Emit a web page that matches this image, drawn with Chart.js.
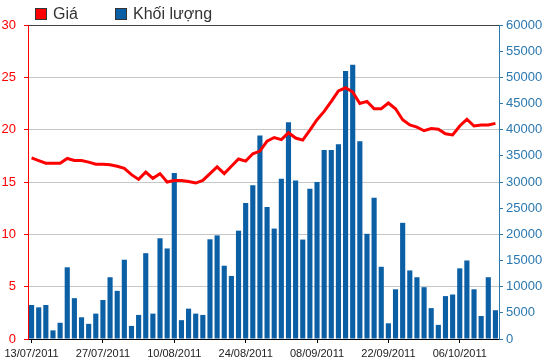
<!DOCTYPE html>
<html>
<head>
<meta charset="utf-8">
<script src="https://cdn.jsdelivr.net/npm/chart.js@4.4.1/dist/chart.umd.min.js"></script>
<style>
  html, body { margin: 0; padding: 0; background: #fff; }
  canvas { display: block; }
</style>
</head>
<body>
<canvas id="chartGia" width="550" height="364"></canvas>
<script>
// Ngày giao dịch
const ngay = [
  '13/07/2011','14/07/2011','15/07/2011','18/07/2011','19/07/2011','20/07/2011','21/07/2011','22/07/2011','25/07/2011','26/07/2011',
  '27/07/2011','28/07/2011','29/07/2011','01/08/2011','02/08/2011','03/08/2011','04/08/2011','05/08/2011','08/08/2011','09/08/2011',
  '10/08/2011','11/08/2011','12/08/2011','15/08/2011','16/08/2011','17/08/2011','18/08/2011','19/08/2011','22/08/2011','23/08/2011',
  '24/08/2011','25/08/2011','26/08/2011','29/08/2011','30/08/2011','31/08/2011','01/09/2011','05/09/2011','06/09/2011','07/09/2011',
  '08/09/2011','09/09/2011','12/09/2011','13/09/2011','14/09/2011','15/09/2011','16/09/2011','19/09/2011','20/09/2011','21/09/2011',
  '22/09/2011','23/09/2011','26/09/2011','27/09/2011','28/09/2011','29/09/2011','30/09/2011','03/10/2011','04/10/2011','05/10/2011',
  '06/10/2011','07/10/2011','10/10/2011','11/10/2011','12/10/2011','13/10/2011'
];

// Giá (trục trái)
const gia = [
  17.3, 17.05, 16.8, 16.8, 16.8, 17.25, 17.05, 17.05, 16.9, 16.7,
  16.7, 16.65, 16.5, 16.3, 15.7, 15.25, 15.95, 15.35, 15.8, 15.0,
  15.15, 15.15, 15.05, 14.9, 15.15, 15.8, 16.45, 15.8, 16.5, 17.2,
  17.0, 17.7, 17.95, 18.9, 19.25, 19.05, 19.7, 19.2, 19.0, 19.95,
  20.95, 21.75, 22.7, 23.7, 24.0, 23.6, 22.5, 22.7, 22.0, 22.0,
  22.55, 22.0, 20.95, 20.45, 20.25, 19.9, 20.1, 20.05, 19.6, 19.5,
  20.35, 21.0, 20.35, 20.45, 20.45, 20.6
];

// Khối lượng (trục phải)
const khoiLuong = [
  6500, 6050, 6500, 1650, 3100, 13700, 7800, 4150, 2900, 4850,
  7450, 11800, 9200, 15150, 2500, 4600, 16400, 4850, 19250, 17300,
  31700, 3600, 5800, 4850, 4600, 19050, 19800, 14000, 12050, 20700,
  26000, 29400, 38900, 25200, 21100, 30600, 41400, 30300, 19000, 28700,
  30000, 36100, 36100, 37200, 51200, 52400, 37800, 20100, 27000, 13800,
  3000, 9500, 22200, 13100, 11800, 9900, 5900, 2700, 8200, 8500,
  13500, 15000, 9500, 4400, 11800, 5500
];

const FONT = 'Liberation Sans, Arial, sans-serif';
const DO = '#ff0000';
const XANH = '#0b5fa5';
const XANH_TRUC = '#2a78b0';

// Chú thích vẽ tay ở phía trên
const chuThich = {
  id: 'chuThich',
  afterDraw(chart) {
    const ctx = chart.ctx;
    const items = [
      { x: 35, ds: chart.data.datasets[0] },
      { x: 115, ds: chart.data.datasets[1] }
    ];
    ctx.save();
    ctx.font = '16px ' + FONT;
    ctx.textBaseline = 'middle';
    items.forEach(it => {
      ctx.fillStyle = it.ds.legendColor;
      ctx.fillRect(it.x, 8, 12, 12);
      ctx.strokeStyle = '#333';
      ctx.lineWidth = 1;
      ctx.strokeRect(it.x + 0.5, 8.5, 11, 11);
      ctx.fillStyle = '#333';
      ctx.fillText(it.ds.label, it.x + 18, 15);
    });
    ctx.restore();
  }
};

const ctx = document.getElementById('chartGia').getContext('2d');

const chart = new Chart(ctx, {
  type: 'bar',
  data: {
    labels: ngay,
    datasets: [{
      type: 'line',
      label: 'Giá',
      data: gia,
      yAxisID: 'yGia',
      borderColor: DO,
      legendColor: DO,
      borderWidth: 3,
      pointRadius: 0,
      tension: 0,
      order: 0
    }, {
      type: 'bar',
      label: 'Khối lượng',
      data: khoiLuong,
      yAxisID: 'yKL',
      backgroundColor: XANH,
      legendColor: XANH,
      barPercentage: 0.72,
      categoryPercentage: 1.0,
      order: 1
    }]
  },
  options: {
    responsive: false,
    animation: false,
    maintainAspectRatio: false,
    layout: { padding: { top: 25, left: 0, right: 0, bottom: 0 } },
    plugins: {
      legend: { display: false },
      tooltip: { enabled: false }
    },
    scales: {
      x: {
        afterFit: s => { s.height = 25; },
        grid: {
          offset: false,
          drawOnChartArea: false,
          tickLength: 4,
          tickColor: '#000'
        },
        border: { color: '#000', width: 1 },
        ticks: {
          autoSkip: false,
          maxRotation: 0,
          minRotation: 0,
          padding: 4,
          color: '#222',
          font: { family: FONT, size: 11 },
          callback: (v, i) => (i % 10 === 0 ? ngay[i] : null)
        }
      },
      yGia: {
        position: 'left',
        min: 0,
        max: 30,
        afterFit: s => { s.width = 28; },
        grid: {
          color: c => (c.tick.value === 30 ? '#444' : '#c6c6c6'),
          tickLength: 4,
          tickColor: DO
        },
        border: { color: DO, width: 1 },
        ticks: {
          stepSize: 5,
          autoSkip: false,
          padding: 8,
          color: DO,
          font: { family: FONT, size: 13 }
        }
      },
      yKL: {
        position: 'right',
        min: 0,
        max: 60000,
        afterFit: s => { s.width = 51; },
        grid: {
          drawOnChartArea: false,
          tickLength: 4,
          tickColor: XANH_TRUC
        },
        border: { color: XANH_TRUC, width: 1 },
        ticks: {
          stepSize: 5000,
          autoSkip: false,
          padding: 3,
          color: XANH_TRUC,
          font: { family: FONT, size: 13 },
          callback: v => String(v)
        }
      }
    }
  },
  plugins: [chuThich]
});
</script>
</body>
</html>
